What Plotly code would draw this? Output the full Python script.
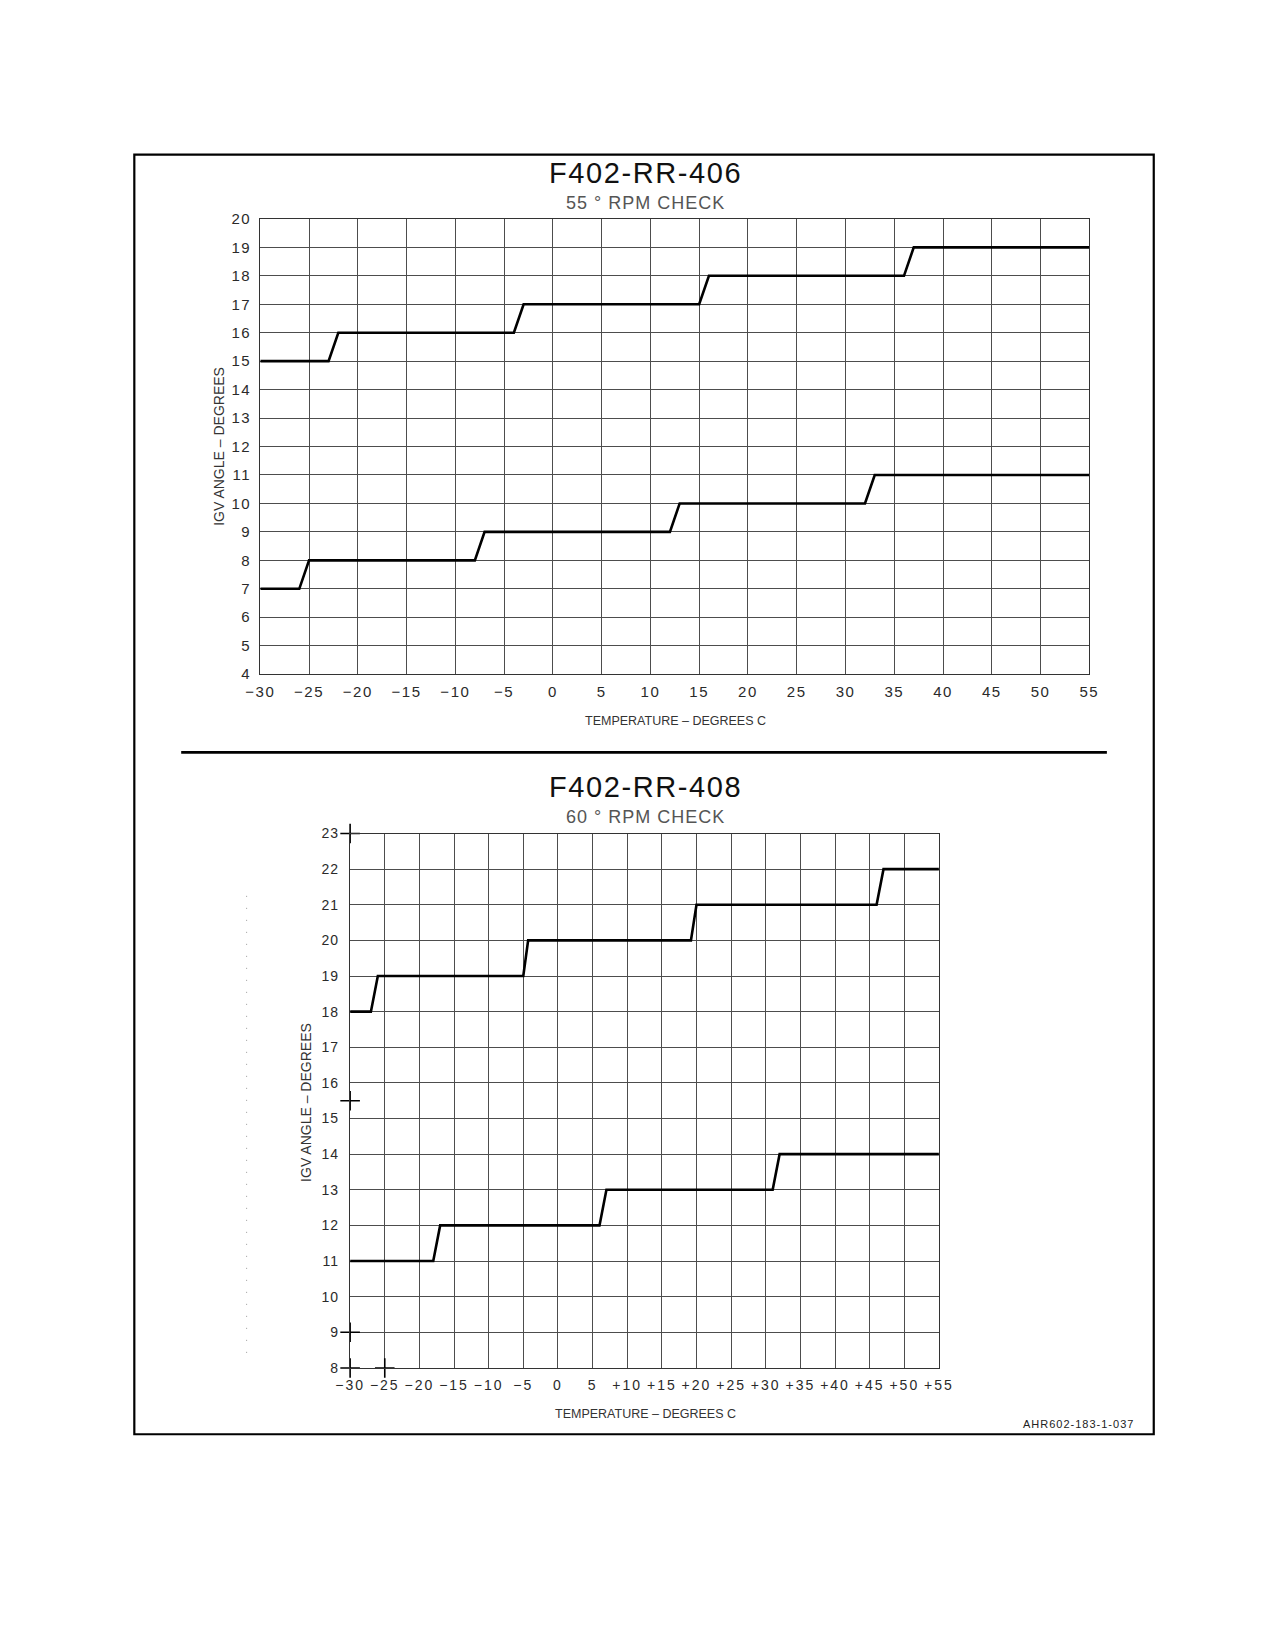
import plotly.graph_objects as go

# F402-RR-406 (55 RPM check) - IGV angle vs temperature
top_hi_temp = [-30, -23, -22, -4, -3, 15, 16, 36, 37, 55]
top_hi_igv = [15, 15, 16, 16, 17, 17, 18, 18, 19, 19]
top_lo_temp = [-30, -26, -25, -8, -7, 12, 13, 32, 33, 55]
top_lo_igv = [7, 7, 8, 8, 9, 9, 10, 10, 11, 11]

# F402-RR-408 (60 RPM check)
bot_hi_temp = [-30, -27, -26, -5, -4.3, 19.2, 20, 46, 47, 55]
bot_hi_igv = [18, 18, 19, 19, 20, 20, 21, 21, 22, 22]
bot_lo_temp = [-30, -18, -17, 6, 7, 31, 32, 55]
bot_lo_igv = [11, 11, 12, 12, 13, 13, 14, 14]

# registration crosses on the lower chart
cross_temp = [-30, -30, -30, -30, -25]
cross_igv = [23, 15.5, 9, 8, 8]

temp_ticks = list(range(-30, 60, 5))
top_igv_ticks = list(range(4, 21))
bot_igv_ticks = list(range(8, 24))


def spaced(s, sp):
    return '<span style="letter-spacing:%spx">%s</span>' % (sp, s)


top_temp_labels = [spaced(str(t).replace("-", "\u2212"), 1.5) for t in temp_ticks]
bot_temp_labels = [spaced("+" + str(t) if t >= 10 else str(t).replace("-", "\u2212"), 2)
                   for t in temp_ticks]
top_igv_labels = [spaced(str(v), 1.5) for v in top_igv_ticks]
bot_igv_labels = [spaced(str(v), 1) for v in bot_igv_ticks]

W, H = 1275, 1650
FONT = "Liberation Sans, Arial"


def px(x):
    return x / W


def py(y):
    return 1 - y / H


fig = go.Figure()

line_style = dict(color="black", width=2.6)
fig.add_trace(go.Scatter(x=top_hi_temp, y=top_hi_igv, mode="lines", line=line_style,
                         xaxis="x", yaxis="y", showlegend=False))
fig.add_trace(go.Scatter(x=top_lo_temp, y=top_lo_igv, mode="lines", line=line_style,
                         xaxis="x", yaxis="y", showlegend=False))
fig.add_trace(go.Scatter(x=bot_hi_temp, y=bot_hi_igv, mode="lines", line=line_style,
                         xaxis="x2", yaxis="y2", showlegend=False))
fig.add_trace(go.Scatter(x=bot_lo_temp, y=bot_lo_igv, mode="lines", line=line_style,
                         xaxis="x2", yaxis="y2", showlegend=False))
fig.add_trace(go.Scatter(x=cross_temp, y=cross_igv, mode="markers",
                         marker=dict(symbol="cross-thin", size=14, line=dict(color="black", width=1.6)),
                         xaxis="x2", yaxis="y2", showlegend=False, cliponaxis=False))

grid = dict(showgrid=True, gridcolor="#4d4d4d", gridwidth=1.2, zeroline=False,
            showline=True, linecolor="#333333", linewidth=1.4, mirror=True,
            ticks="", fixedrange=True)
top_font = dict(family=FONT, size=15, color="#2a2a2a")
bot_font = dict(family=FONT, size=14, color="#2a2a2a")

fig.update_layout(
    width=W, height=H,
    margin=dict(l=0, r=0, t=0, b=0),
    paper_bgcolor="white", plot_bgcolor="white",
    xaxis=dict(domain=[px(243), px(1092)], range=[-30, 55], anchor="y",
               tickvals=temp_ticks, ticktext=top_temp_labels, tickfont=top_font,
               ticklabelstandoff=4, **grid),
    yaxis=dict(domain=[py(664), py(204)], range=[4, 20], anchor="x",
               tickvals=top_igv_ticks, ticktext=top_igv_labels, tickfont=top_font,
               ticklabelstandoff=5, **grid),
    xaxis2=dict(domain=[px(335), px(938)], range=[-30, 55], anchor="y2",
                tickvals=temp_ticks, ticktext=bot_temp_labels, tickfont=bot_font,
                ticklabelstandoff=4, **grid),
    yaxis2=dict(domain=[py(1365), py(825)], range=[8, 23], anchor="x2",
                tickvals=bot_igv_ticks, ticktext=bot_igv_labels, tickfont=bot_font,
                ticklabelstandoff=7, **grid),
)

# page frame, separator and faint dotted margin line
fig.add_shape(type="rect", xref="paper", yref="paper",
              x0=px(114), x1=px(1158), y0=py(1432), y1=py(139),
              line=dict(color="black", width=2.2))
fig.add_shape(type="line", xref="paper", yref="paper",
              x0=px(162), x1=px(1110), y0=py(743), y1=py(743),
              line=dict(color="black", width=2.6))
fig.add_shape(type="line", xref="paper", yref="paper",
              x0=px(229), x1=px(229), y0=py(888), y1=py(1356),
              line=dict(color="#9a9a9a", width=1, dash="1px,11px"))

texts = [
    (spaced("F402-RR-406", 1.6), 638, 158, 29, "#111111"),
    (spaced("55 \u00b0 RPM CHECK", 1), 638, 188, 18, "#555555"),
    ("TEMPERATURE \u2013 DEGREES C", 668, 711, 12.5, "#333333"),
    (spaced("F402-RR-408", 1.6), 637, 778, 29, "#111111"),
    (spaced("60 \u00b0 RPM CHECK", 1), 637, 808, 18, "#555555"),
    ("TEMPERATURE \u2013 DEGREES C", 637, 1412, 12.5, "#333333"),
]
for t, x, y, s, c in texts:
    fig.add_annotation(text=t, x=px(x), y=py(y), xref="paper", yref="paper",
                       showarrow=False, xanchor="center", yanchor="middle",
                       font=dict(family=FONT, size=s, color=c))

for x, y in [(200, 434), (289, 1097)]:
    fig.add_annotation(text="IGV ANGLE \u2013 DEGREES", x=px(x), y=py(y), xref="paper", yref="paper",
                       showarrow=False, textangle=-90, xanchor="center", yanchor="middle",
                       font=dict(family=FONT, size=14, color="#333333"))

fig.add_annotation(text=spaced("AHR602-183-1-037", 1), x=px(1140), y=py(1422), xref="paper", yref="paper",
                   showarrow=False, xanchor="right", yanchor="middle",
                   font=dict(family=FONT, size=11, color="#222222"))

fig.write_html("out.html")
